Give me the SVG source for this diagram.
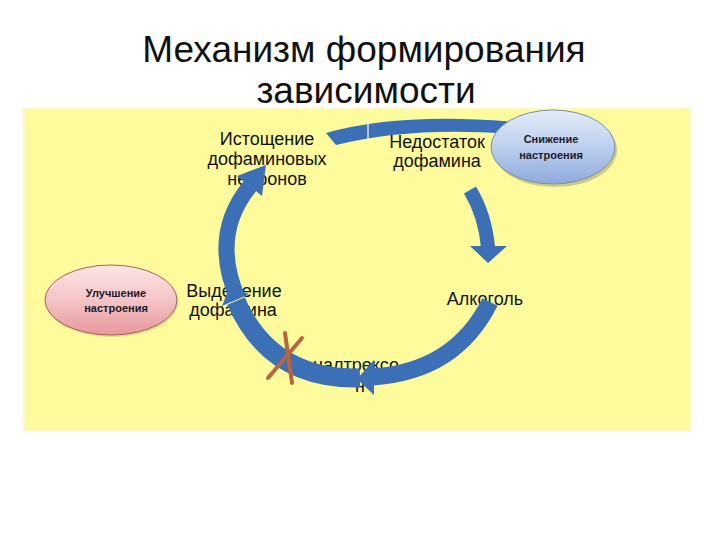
<svg xmlns="http://www.w3.org/2000/svg" width="720" height="540" viewBox="0 0 720 540">
  <defs>
    <linearGradient id="gBlue" x1="0" y1="0" x2="0" y2="1">
      <stop offset="0" stop-color="#e4ecf8"/>
      <stop offset="0.5" stop-color="#bccfee"/>
      <stop offset="1" stop-color="#8eaadb"/>
    </linearGradient>
    <linearGradient id="gPink" x1="0" y1="0" x2="0" y2="1">
      <stop offset="0" stop-color="#fce6e6"/>
      <stop offset="0.5" stop-color="#f5c4c6"/>
      <stop offset="1" stop-color="#e8989d"/>
    </linearGradient>
    <style>
      .title { font-family: "Liberation Sans", Arial, sans-serif; font-size: 37px; fill: #111; text-anchor: middle; }
      .lbl { font-family: "Liberation Sans", Arial, sans-serif; font-size: 18px; fill: #111; text-anchor: middle; }
      .elbl { font-family: "Liberation Sans", Arial, sans-serif; font-size: 11px; font-weight: bold; fill: #1a1a2a; text-anchor: middle; }
      .shaft { fill: none; stroke: #3b6fb6; stroke-linecap: butt; }
      .head { fill: #3b6fb6; }
      .cross { stroke: #b8643e; stroke-width: 4; stroke-linecap: round; }
    </style>
  </defs>

  <rect width="720" height="540" fill="#ffffff"/>

  <g id="title">
    <text class="title" x="364" y="62">Механизм формирования</text>
    <text class="title" x="366" y="103">зависимости</text>
  </g>

  <rect id="panel" x="24" y="109" width="666" height="321" fill="#fefb9d" stroke="#fbf8c4" stroke-width="2"/>

  <g id="labels">
    <g id="n-istoshenie">
      <text class="lbl" x="267" y="145">Истощение</text>
      <text class="lbl" x="267" y="165">дофаминовых</text>
      <text class="lbl" x="267" y="185">нейронов</text>
    </g>
    <g id="n-nedostatok">
      <text class="lbl" x="437" y="148">Недостаток</text>
      <text class="lbl" x="437" y="167">дофамина</text>
    </g>
    <g id="n-alkogol">
      <text class="lbl" x="485" y="305">Алкоголь</text>
    </g>
    <g id="n-naltrekson">
      <text class="lbl" x="356" y="371">налтрексо</text>
      <text class="lbl" x="360" y="392">н</text>
    </g>
    <g id="n-vydelenie">
      <text class="lbl" x="234" y="297">Выделение</text>
      <text class="lbl" x="233" y="316">дофамина</text>
    </g>
  </g>

  <g id="connectors">
    <!-- top arc -->
    <path d="M326 133 Q400 112 515 122 L515 134 Q410 126 336 145 Z" fill="#3b6fb6"/>
    <line x1="368" y1="120" x2="368" y2="139" stroke="#ffffff" stroke-width="1.2"/>
    <!-- right arrow -->
    <path class="shaft" d="M470 190 Q485 215 488 247" stroke-width="14"/>
    <polygon class="head" points="470,246 507,246 488,263"/>
    <!-- bottom-right arc -->
    <path class="shaft" d="M490 302 Q455 372 372 377" stroke-width="17"/>
    <polygon class="head" points="374,360 374,395 357,379"/>
    <!-- bottom-left arc -->
    <path class="shaft" d="M360 378 Q270 380 236 301" stroke-width="19"/>
    <polygon class="head" points="249,294 222,306 229,288"/>
    <!-- left arc -->
    <path class="shaft" d="M238 299 Q210 235 250 186" stroke-width="16"/>
    <polygon class="head" points="262,196 237,176 266,165"/>
    <!-- blocking cross -->
    <line class="cross" x1="268" y1="378" x2="302" y2="338"/>
    <line class="cross" x1="285" y1="333" x2="292" y2="383"/>
  </g>

  <g id="n-snizhenie">
    <ellipse cx="555" cy="150" rx="62" ry="37" fill="#6a6a6a" opacity="0.35"/>
    <ellipse cx="553" cy="147" rx="62" ry="37" fill="url(#gBlue)" stroke="#7d8da6" stroke-width="1"/>
    <text class="elbl" x="551" y="143">Снижение</text>
    <text class="elbl" x="551" y="159">настроения</text>
  </g>

  <g id="n-uluchshenie">
    <ellipse cx="112" cy="302" rx="66" ry="35" fill="#8a6a6a" opacity="0.25"/>
    <ellipse cx="111" cy="300" rx="66" ry="35" fill="url(#gPink)" stroke="#a8605a" stroke-width="1"/>
    <text class="elbl" x="116" y="297">Улучшение</text>
    <text class="elbl" x="116" y="312">настроения</text>
  </g>
</svg>
